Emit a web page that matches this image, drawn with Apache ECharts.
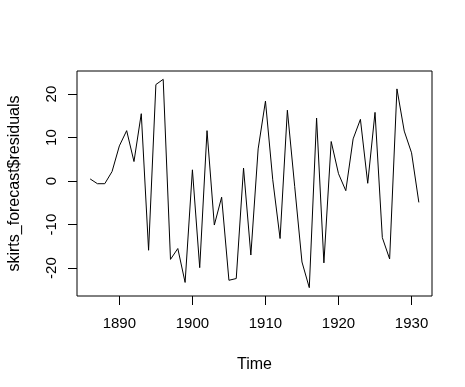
<!DOCTYPE html>
<html>
<head>
<meta charset="utf-8">
<script src="https://cdn.jsdelivr.net/npm/echarts@6/dist/echarts.min.js"></script>
<style>
  html, body { margin: 0; padding: 0; background: #fff; }
  #chart { width: 465px; height: 387px; }
</style>
</head>
<body>
<div id="chart"></div>
<script>
// residuals by year, 1886 - 1931
const startYear = 1886;
const residuals = [
  0.5, -0.6, -0.6, 2.2, 8.1, 11.6, 4.5, 15.5, -15.9, 22.2,
  23.4, -18.0, -15.5, -23.3, 2.6, -19.9, 11.6, -10.1, -3.7, -22.8,
  -22.4, 3.0, -17.0, 7.4, 18.4, 0.3, -13.2, 16.3, -1.2, -18.6,
  -24.5, 14.5, -18.8, 9.1, 1.7, -2.2, 9.7, 14.2, -0.5, 15.8,
  -13.0, -17.9, 21.2, 11.5, 6.5, -4.9
];
const xTicks = [1890, 1900, 1910, 1920, 1930];
const yTicks = [-20, -10, 0, 10, 20];

const seriesData = residuals.map((v, i) => [startYear + i, v]);

// R style 4% padding round the data range
const xMin = startYear, xMax = startYear + residuals.length - 1;
const yLo = Math.min(...residuals), yHi = Math.max(...residuals);
const xPad = (xMax - xMin) * 0.04, yPad = (yHi - yLo) * 0.04;

const font = "Liberation Sans, Arial, sans-serif";

let chart = echarts.init(document.getElementById("chart"));
let option = {
  animation: false,
  grid: {
    left: 77, right: 33, top: 71, bottom: 91,
    outerBoundsMode: "none",
    show: true, borderColor: "#000", borderWidth: 1, backgroundColor: "transparent"
  },
  xAxis: {
    type: "value",
    min: xMin - xPad,
    max: xMax + xPad,
    name: "Time",
    nameLocation: "middle",
    nameGap: 61,
    nameTextStyle: { color: "#000", fontSize: 16, fontFamily: font },
    splitLine: { show: false },
    axisLine: { show: false, onZero: false },
    axisTick: { show: true, length: 9, customValues: xTicks, lineStyle: { color: "#000" } },
    axisLabel: {
      customValues: xTicks, color: "#000", fontSize: 15, fontFamily: font, margin: 20,
      formatter: v => String(v)
    }
  },
  yAxis: {
    type: "value",
    min: yLo - yPad,
    max: yHi + yPad,
    name: "skirts_forecast$residuals",
    nameLocation: "middle",
    nameGap: 54,
    nameTextStyle: { color: "#000", fontSize: 16, fontFamily: font },
    splitLine: { show: false },
    axisLine: { show: false, onZero: false },
    axisTick: { show: true, length: 9, customValues: yTicks, lineStyle: { color: "#000" } },
    axisLabel: {
      customValues: yTicks, rotate: 90, color: "#000", fontSize: 15, fontFamily: font, margin: 18,
      formatter: v => String(v)
    }
  },
  series: [
    {
      type: "line",
      data: seriesData,
      showSymbol: false,
      lineStyle: { color: "#000", width: 1 }
    }
  ]
};
chart.setOption(option);
</script>
</body>
</html>
